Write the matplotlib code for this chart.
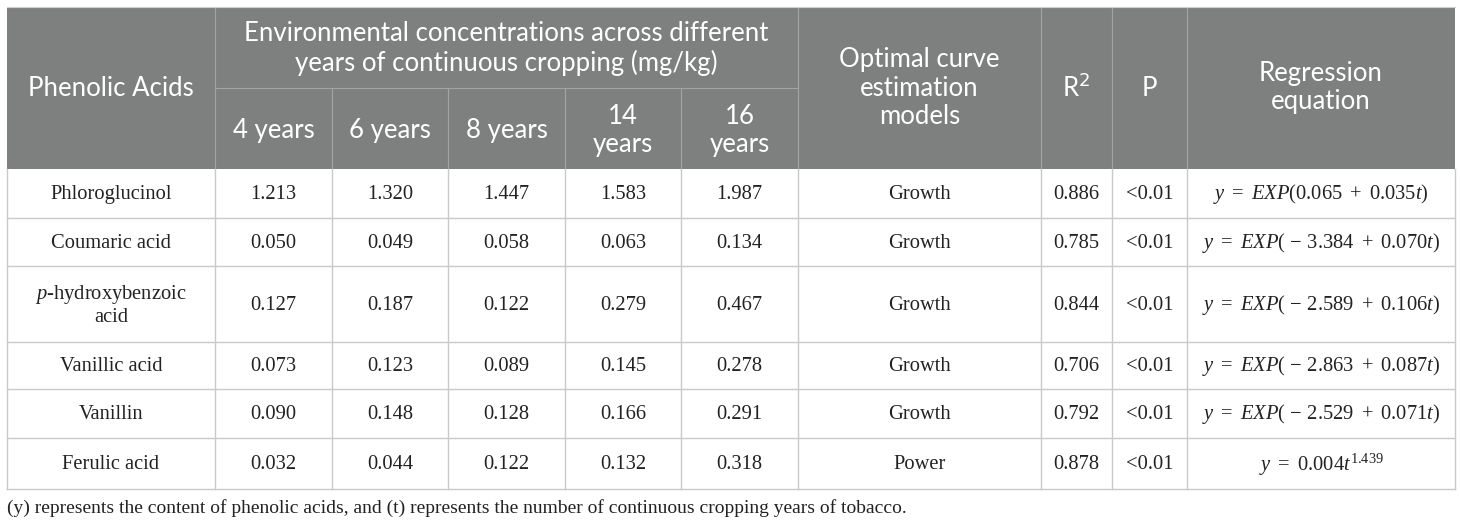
"""
phenolic acid table redraw
"""

import matplotlib.pyplot as plt
from matplotlib.patches import Rectangle

plt.rcParams['mathtext.fontset'] = 'custom'
plt.rcParams['mathtext.rm'] = 'Liberation Serif'
plt.rcParams['mathtext.it'] = 'Liberation Serif:italic'

# table content
acids = ["Phloroglucinol", "Coumaric acid", "$p$-hydroxybenzoic\nacid",
         "Vanillic acid", "Vanillin", "Ferulic acid"]
year_labels = ["4 years", "6 years", "8 years", "14\nyears", "16\nyears"]
conc_4 = ["1.213", "0.050", "0.127", "0.073", "0.090", "0.032"]
conc_6 = ["1.320", "0.049", "0.187", "0.123", "0.148", "0.044"]
conc_8 = ["1.447", "0.058", "0.122", "0.089", "0.128", "0.122"]
conc_14 = ["1.583", "0.063", "0.279", "0.145", "0.166", "0.132"]
conc_16 = ["1.987", "0.134", "0.467", "0.278", "0.291", "0.318"]
models = ["Growth", "Growth", "Growth", "Growth", "Growth", "Power"]
r2 = ["0.886", "0.785", "0.844", "0.706", "0.792", "0.878"]
p_vals = ["<0.01"] * 6
equations = [
    r"$y\ =\ EXP(0.065\ +\ 0.035t)$",
    r"$y\ =\ EXP(\,-\,3.384\ +\ 0.070t)$",
    r"$y\ =\ EXP(\,-\,2.589\ +\ 0.106t)$",
    r"$y\ =\ EXP(\,-\,2.863\ +\ 0.087t)$",
    r"$y\ =\ EXP(\,-\,2.529\ +\ 0.071t)$",
    r"$y\ =\ 0.004t^{1.439}$",
]
footnote = ("(y) represents the content of phenolic acids, and (t) represents "
            "the number of continuous cropping years of tobacco.")

# layout (pixels)
col_x = [7, 215, 332, 448, 565, 681, 798, 1041, 1112, 1187, 1455]
head_top, head_mid, head_bot = 7, 88, 169
row_y = [169, 218, 266, 342, 389, 438, 489]
HEAD_BG = "#7e807f"
HEAD_LINE = "#a3a5a4"
BODY_LINE = "#c9c9c9"
HEAD_FONT = "Lato"
BODY_FONT = "Liberation Serif"

fig = plt.figure(figsize=(14.6, 5.26), dpi=100)
ax = fig.add_axes([0, 0, 1, 1])
ax.set_xlim(0, 1460)
ax.set_ylim(526, 0)
ax.axis("off")

# header block
ax.add_patch(Rectangle((col_x[0], head_top), col_x[-1] - col_x[0],
                       head_bot - head_top, color=HEAD_BG, lw=0))
for i, x in enumerate(col_x[1:-1], start=1):
    if 2 <= i <= 5:
        ax.plot([x, x], [head_mid, head_bot], color=HEAD_LINE, lw=0.8)
    else:
        ax.plot([x, x], [head_top, head_bot], color=HEAD_LINE, lw=0.8)
ax.plot([col_x[1], col_x[6]], [head_mid, head_mid], color=HEAD_LINE, lw=0.8)
ax.plot([col_x[0], col_x[-1]], [head_top, head_top], color="#d0d0d0", lw=0.8)

hkw = dict(ha="center", va="center", color="white", family=HEAD_FONT,
           fontsize=18.5, linespacing=1.15)
mid_head = (head_top + head_bot) / 2
ax.text((col_x[0] + col_x[1]) / 2, mid_head, "Phenolic Acids", **hkw)
ax.text((col_x[1] + col_x[6]) / 2, (head_top + head_mid) / 2 + 1,
        "Environmental concentrations across different\n"
        "years of continuous cropping (mg/kg)", **hkw)
for i, lab in enumerate(year_labels):
    ax.text((col_x[1 + i] + col_x[2 + i]) / 2, (head_mid + head_bot) / 2 + 2,
            lab, **hkw)
ax.text((col_x[6] + col_x[7]) / 2, mid_head,
        "Optimal curve\nestimation\nmodels", **hkw)
ax.text((col_x[7] + col_x[8]) / 2, mid_head, "R$^2$",
        math_fontfamily="dejavusans", **hkw)
ax.text((col_x[8] + col_x[9]) / 2, mid_head, "P", **hkw)
ax.text((col_x[9] + col_x[10]) / 2, mid_head, "Regression\nequation", **hkw)

# body grid
for y in row_y[1:]:
    ax.plot([col_x[0], col_x[-1]], [y, y], color=BODY_LINE, lw=1.0)
for x in col_x:
    ax.plot([x, x], [row_y[0], row_y[-1]], color=BODY_LINE, lw=1.0)

bkw = dict(ha="center", va="center", color="#222222", family=BODY_FONT,
           fontsize=14.8, linespacing=1.2)
columns = [acids, conc_4, conc_6, conc_8, conc_14, conc_16,
           models, r2, p_vals, equations]
for r in range(len(acids)):
    yc = (row_y[r] + row_y[r + 1]) / 2 + 1
    for c, col in enumerate(columns):
        ax.text((col_x[c] + col_x[c + 1]) / 2, yc, col[r], **bkw)

ax.text(col_x[0], 508, footnote, ha="left", va="center", color="#222222",
        family=BODY_FONT, fontsize=14)

fig.savefig("out.png", dpi=100)
